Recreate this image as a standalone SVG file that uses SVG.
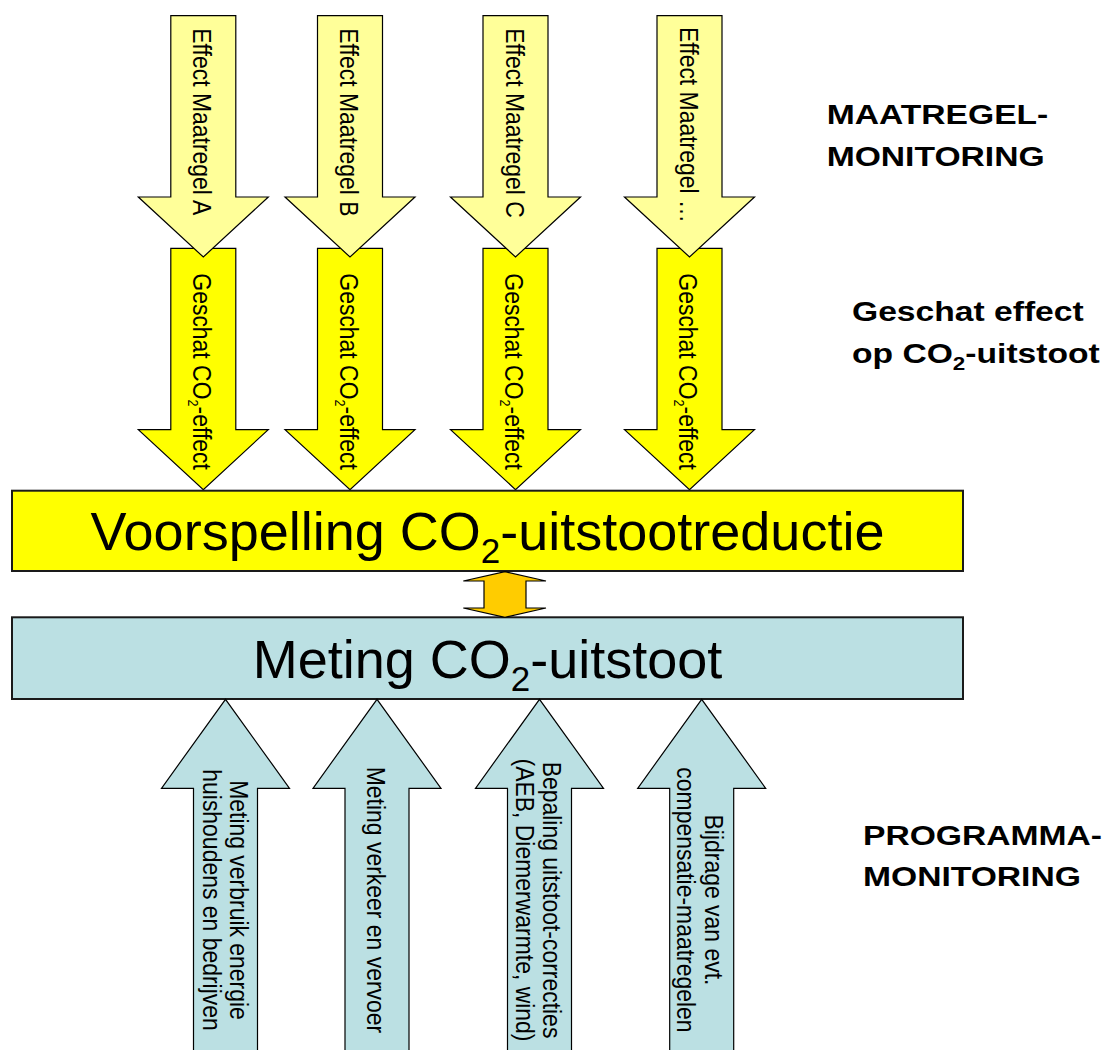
<svg xmlns="http://www.w3.org/2000/svg" width="1109" height="1050" viewBox="0 0 1109 1050">
<style>
text{font-family:"Liberation Sans",Arial,sans-serif;fill:#000}
.ly{fill:#FFFF99;stroke:#000;stroke-width:1.2}
.yl{fill:#FFFF00;stroke:#000;stroke-width:1.2}
.bl{fill:#BBE0E3;stroke:#000;stroke-width:1.2}
.box{stroke:#1a1a1a;stroke-width:2}
.rt{font-size:25.5px}
.big{font-size:54px}
.lbl{font-size:28.5px;font-weight:bold}
</style>
<defs>
<polygon id="arrTop" points="-32.5,0 32.5,0 32.5,181.3 65,181.3 0,241.3 -65,181.3 -32.5,181.3"/>
<polygon id="arrUp" points="-32,360 -32,89 -64,89 0,0 64,89 32,89 32,360"/>
</defs>

<!-- second row (estimated CO2 effect) -->
<g id="geschat-A"><use href="#arrTop" class="yl" x="203.3" y="248.3"/>
<text class="rt" transform="translate(193,273.3) rotate(90) scale(0.9,1)">Geschat CO<tspan font-size="14" dy="5">2</tspan><tspan dy="-5">-effect</tspan></text></g>
<g id="geschat-B"><use href="#arrTop" class="yl" x="350" y="248.3"/>
<text class="rt" transform="translate(339.7,273.3) rotate(90) scale(0.9,1)">Geschat CO<tspan font-size="14" dy="5">2</tspan><tspan dy="-5">-effect</tspan></text></g>
<g id="geschat-C"><use href="#arrTop" class="yl" x="515.5" y="248.3"/>
<text class="rt" transform="translate(505.2,273.3) rotate(90) scale(0.9,1)">Geschat CO<tspan font-size="14" dy="5">2</tspan><tspan dy="-5">-effect</tspan></text></g>
<g id="geschat-D"><use href="#arrTop" class="yl" x="689.5" y="248.3"/>
<text class="rt" transform="translate(679.2,273.3) rotate(90) scale(0.9,1)">Geschat CO<tspan font-size="14" dy="5">2</tspan><tspan dy="-5">-effect</tspan></text></g>

<!-- first row (measures) -->
<g id="maatregel-A"><use href="#arrTop" class="ly" x="203.3" y="15.7"/>
<text class="rt" transform="translate(193.3,28.3) rotate(90) scale(0.9,1)">Effect Maatregel A</text></g>
<g id="maatregel-B"><use href="#arrTop" class="ly" x="350" y="15.7"/>
<text class="rt" transform="translate(340,28.3) rotate(90) scale(0.9,1)">Effect Maatregel B</text></g>
<g id="maatregel-C"><use href="#arrTop" class="ly" x="515.5" y="15.7"/>
<text class="rt" transform="translate(505.5,28.3) rotate(90) scale(0.9,1)">Effect Maatregel C</text></g>
<g id="maatregel-D"><use href="#arrTop" class="ly" x="689.5" y="15.7"/>
<text class="rt" transform="translate(679.5,27) rotate(90) scale(0.9,1)">Effect Maatregel …</text></g>

<!-- main boxes -->
<g id="voorspelling">
<rect class="box" x="12" y="490.7" width="951" height="80.3" fill="#FFFF00"/>
<text class="big" x="487.5" y="550" text-anchor="middle">Voorspelling CO<tspan font-size="35" dy="13">2</tspan><tspan dy="-13">-uitstootreductie</tspan></text>
</g>
<g id="meting">
<rect class="box" x="12" y="617.3" width="951" height="81.7" fill="#BBE0E3"/>
<text class="big" x="487.5" y="678.3" text-anchor="middle">Meting CO<tspan font-size="35" dy="13">2</tspan><tspan dy="-13">-uitstoot</tspan></text>
</g>

<!-- bottom arrows (programme monitoring) -->
<g id="meting-energie"><use href="#arrUp" class="bl" x="225.5" y="699.3"/>
<text class="rt" text-anchor="middle" transform="translate(230,900) rotate(90) scale(0.9,1)">Meting verbruik energie</text>
<text class="rt" text-anchor="middle" transform="translate(203,900) rotate(90) scale(0.9,1)">huishoudens en bedrijven</text></g>
<g id="meting-verkeer"><use href="#arrUp" class="bl" x="377" y="699.3"/>
<text class="rt" text-anchor="middle" transform="translate(367,900) rotate(90) scale(0.9,1)">Meting verkeer en vervoer</text></g>
<g id="bepaling-correcties"><use href="#arrUp" class="bl" x="539.5" y="699.3"/>
<text class="rt" text-anchor="middle" transform="translate(543,900) rotate(90) scale(0.9,1)">Bepaling uitstoot-correcties</text>
<text class="rt" text-anchor="middle" transform="translate(516,900) rotate(90) scale(0.9,1)">(AEB, Diemerwarmte, wind)</text></g>
<g id="bijdrage-compensatie"><use href="#arrUp" class="bl" x="701.7" y="699.3"/>
<text class="rt" text-anchor="middle" transform="translate(705,900) rotate(90) scale(0.9,1)">Bijdrage van evt.</text>
<text class="rt" text-anchor="middle" transform="translate(677,900) rotate(90) scale(0.9,1)">compensatie-maatregelen</text></g>

<!-- connectors -->
<g id="connectors">
<polygon points="505,571.7 546,581 526,581 526,608 546,608 505,617.3 463.3,608 484,608 484,581 463.3,581" fill="#FFCC00" stroke="#000" stroke-width="1.2"/>
</g>

<!-- side labels -->
<g id="label-maatregel">
<text class="lbl" transform="translate(826.7,124.3) scale(1.18,1)">MAATREGEL-</text>
<text class="lbl" transform="translate(826.7,166) scale(1.18,1)">MONITORING</text>
</g>
<g id="label-geschat">
<text class="lbl" transform="translate(852,321) scale(1.18,1)">Geschat effect</text>
<text class="lbl" transform="translate(852,363) scale(1.18,1)">op CO<tspan font-size="19" dy="7">2</tspan><tspan dy="-7">-uitstoot</tspan></text>
</g>
<g id="label-programma">
<text class="lbl" transform="translate(863,845) scale(1.18,1)">PROGRAMMA-</text>
<text class="lbl" transform="translate(863,886) scale(1.18,1)">MONITORING</text>
</g>
</svg>
